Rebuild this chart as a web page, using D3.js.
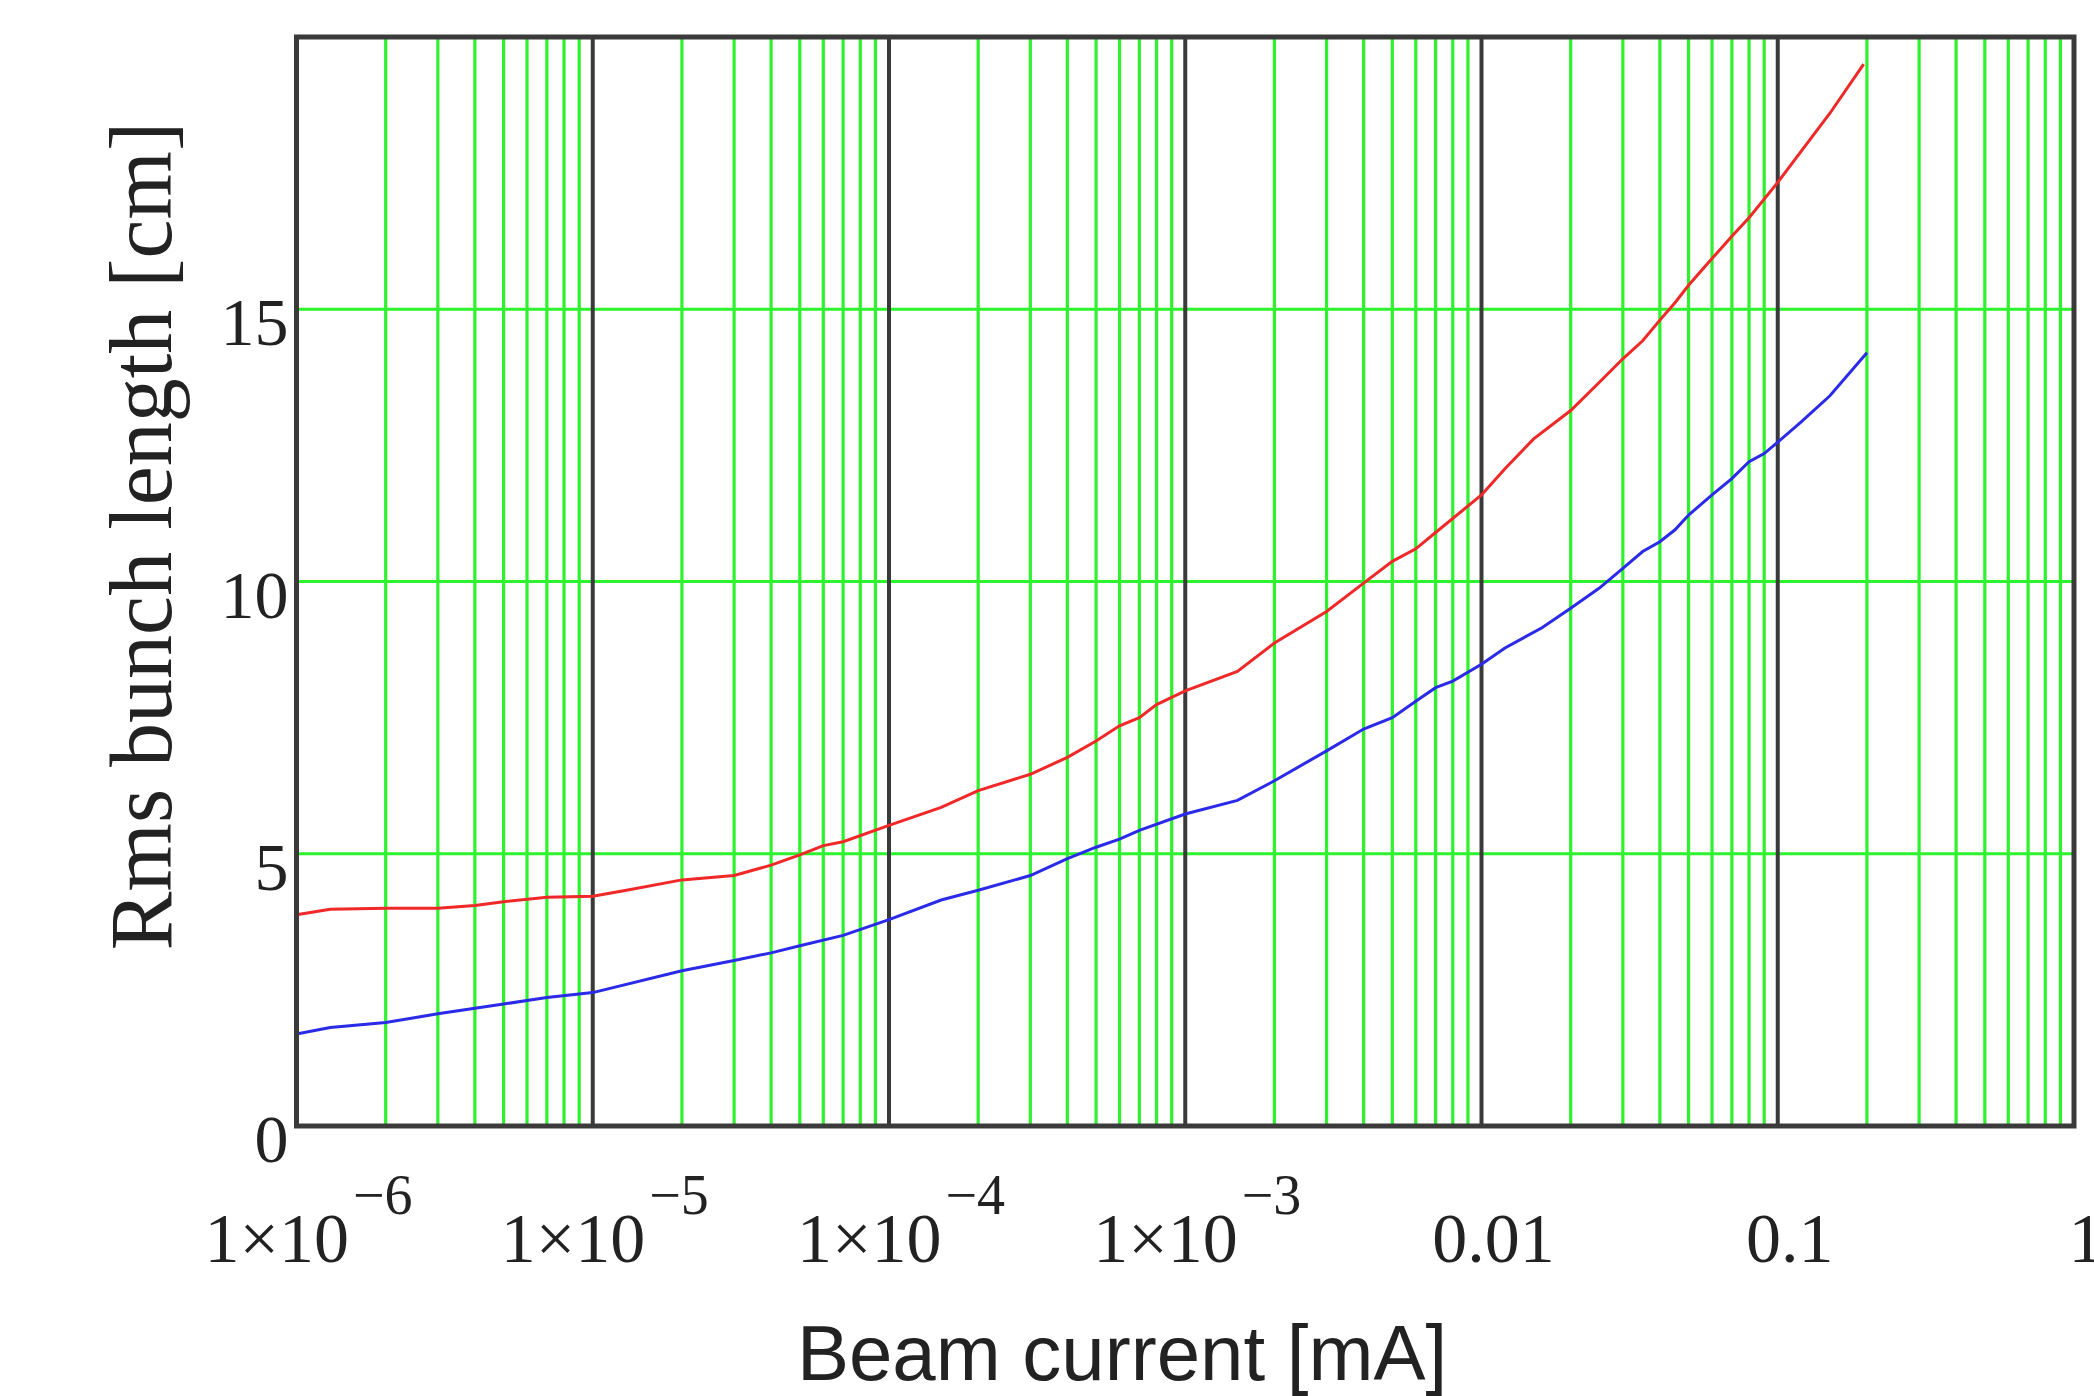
<!DOCTYPE html>
<html>
<head>
<meta charset="utf-8">
<script src="https://cdn.jsdelivr.net/npm/d3@7"></script>
<style>
  html, body { margin: 0; padding: 0; background: #fff; }
  svg { display: block; }
</style>
</head>
<body>
<svg id="chart" width="2094" height="1396"></svg>
<script>
// beam current [mA] and rms bunch length [cm]
const currentRed = [1e-6, 1.3e-6, 2e-6, 3e-6, 4e-6, 5e-6, 7e-6, 1e-5, 1.3e-5, 2e-5, 3e-5, 4e-5, 5e-5, 6e-5, 7e-5,
    1e-4, 1.5e-4, 2e-4, 3e-4, 4e-4, 5e-4, 6e-4, 7e-4, 8e-4, 1e-3, 1.5e-3, 2e-3, 3e-3, 4e-3, 5e-3, 6e-3, 7e-3,
    1e-2, 1.2e-2, 1.5e-2, 2e-2, 2.5e-2, 3e-2, 3.5e-2, 4e-2, 4.5e-2, 5e-2, 6e-2, 7e-2, 8e-2, 0.1, 0.15, 0.195];
const lengthRed = [3.88, 3.98, 4.0, 4.0, 4.05, 4.12, 4.2, 4.22, 4.33, 4.52, 4.6, 4.79, 4.98, 5.15, 5.22,
    5.52, 5.85, 6.16, 6.46, 6.77, 7.07, 7.35, 7.5, 7.74, 7.99, 8.35, 8.87, 9.45, 9.97, 10.37, 10.6, 10.9,
    11.59, 12.07, 12.62, 13.14, 13.66, 14.09, 14.42, 14.8, 15.12, 15.44, 15.93, 16.34, 16.68, 17.33, 18.6, 19.5];

const currentBlue = [1e-6, 1.3e-6, 2e-6, 3e-6, 5e-6, 7e-6, 1e-5, 2e-5, 3e-5, 4e-5, 5e-5, 7e-5,
    1e-4, 1.5e-4, 2e-4, 3e-4, 4e-4, 5e-4, 6e-4, 7e-4, 1e-3, 1.5e-3, 2e-3, 3e-3, 4e-3, 5e-3, 6e-3, 7e-3, 8e-3,
    1e-2, 1.2e-2, 1.6e-2, 2e-2, 2.5e-2, 3e-2, 3.5e-2, 4e-2, 4.5e-2, 5e-2, 6e-2, 7e-2, 8e-2, 9e-2,
    0.1, 0.12, 0.15, 0.2];
const lengthBlue = [1.69, 1.81, 1.9, 2.06, 2.24, 2.36, 2.45, 2.85, 3.04, 3.18, 3.31, 3.5,
    3.79, 4.15, 4.33, 4.6, 4.91, 5.12, 5.27, 5.43, 5.73, 5.98, 6.34, 6.89, 7.29, 7.5, 7.8, 8.05, 8.17,
    8.48, 8.78, 9.15, 9.51, 9.88, 10.24, 10.55, 10.73, 10.95, 11.22, 11.59, 11.89, 12.2, 12.35,
    12.56, 12.93, 13.41, 14.2];

const xTickValues = [1e-6, 1e-5, 1e-4, 1e-3, 1e-2, 0.1, 1];
const xTickBase = ["1×10", "1×10", "1×10", "1×10", "0.01", "0.1", "1"];
const xTickExp = ["−6", "−5", "−4", "−3", "", "", ""];
const yTickValues = [0, 5, 10, 15];

const svg = d3.select("#chart"),
    margin = {top: 37, right: 20, bottom: 270, left: 296.5},
    width = +svg.attr("width"),
    height = +svg.attr("height");

const x = d3.scaleLog()
    .domain([1e-6, 1])
    .range([margin.left, width - margin.right]);

const y = d3.scaleLinear()
    .domain([0, 20])
    .range([height - margin.bottom, margin.top]);

const grid = svg.append("g");

// minor (green) and decade (dark) vertical lines
const xt = x.ticks();
grid.selectAll("line.minor")
    .data(xt.filter(d => Math.abs(Math.log10(d) - Math.round(Math.log10(d))) > 1e-6))
    .enter().append("line")
    .attr("x1", d => x(d)).attr("x2", d => x(d))
    .attr("y1", y(0)).attr("y2", y(20))
    .attr("stroke", "#2ef22e")
    .attr("stroke-width", 3.2);

grid.selectAll("line.hgrid")
    .data([5, 10, 15])
    .enter().append("line")
    .attr("x1", x(1e-6)).attr("x2", x(1))
    .attr("y1", d => y(d)).attr("y2", d => y(d))
    .attr("stroke", "#2ef22e")
    .attr("stroke-width", 3.2);

grid.selectAll("line.major")
    .data(xTickValues.slice(1, -1))
    .enter().append("line")
    .attr("x1", d => x(d)).attr("x2", d => x(d))
    .attr("y1", y(0)).attr("y2", y(20))
    .attr("stroke", "#3a3a3a")
    .attr("stroke-width", 4);

// curves
const line = d3.line()
    .x(d => x(d[0]))
    .y(d => y(d[1]));

svg.append("path")
    .datum(d3.zip(currentRed, lengthRed))
    .attr("fill", "none")
    .attr("stroke", "#f02828")
    .attr("stroke-width", 3)
    .attr("d", line);

svg.append("path")
    .datum(d3.zip(currentBlue, lengthBlue))
    .attr("fill", "none")
    .attr("stroke", "#2a2ae8")
    .attr("stroke-width", 3)
    .attr("d", line);

// frame
svg.append("rect")
    .attr("x", x(1e-6)).attr("y", y(20))
    .attr("width", x(1) - x(1e-6))
    .attr("height", y(0) - y(20))
    .attr("fill", "none")
    .attr("stroke", "#3a3a3a")
    .attr("stroke-width", 5);

// y ticks
svg.append("g")
    .selectAll("text")
    .data(yTickValues)
    .enter().append("text")
    .attr("x", x(1e-6) - 8)
    .attr("y", d => y(d) + 36)
    .attr("text-anchor", "end")
    .attr("font-family", "Liberation Serif, Times New Roman, serif")
    .attr("font-size", 68)
    .attr("fill", "#222")
    .text(d => d);

// x ticks
const xl = svg.append("g")
    .selectAll("text")
    .data(xTickValues)
    .enter().append("text")
    .attr("x", d => x(d) + 12)
    .attr("y", 1262)
    .attr("text-anchor", "middle")
    .attr("font-family", "Liberation Serif, Times New Roman, serif")
    .attr("font-size", 70)
    .attr("fill", "#222");
xl.append("tspan").text((d, i) => xTickBase[i]);
xl.append("tspan")
    .attr("dy", -48)
    .attr("dx", 4)
    .attr("font-size", 56)
    .text((d, i) => xTickExp[i]);

// axis titles
svg.append("text")
    .attr("x", 1122)
    .attr("y", 1380)
    .attr("text-anchor", "middle")
    .attr("font-family", "Liberation Sans, Arial, sans-serif")
    .attr("font-size", 78)
    .attr("fill", "#222")
    .text("Beam current [mA]");

svg.append("text")
    .attr("transform", "translate(171,536) rotate(-90)")
    .attr("text-anchor", "middle")
    .attr("font-family", "Liberation Serif, Times New Roman, serif")
    .attr("font-size", 88)
    .attr("fill", "#222")
    .text("Rms bunch length [cm]");
</script>
</body>
</html>
